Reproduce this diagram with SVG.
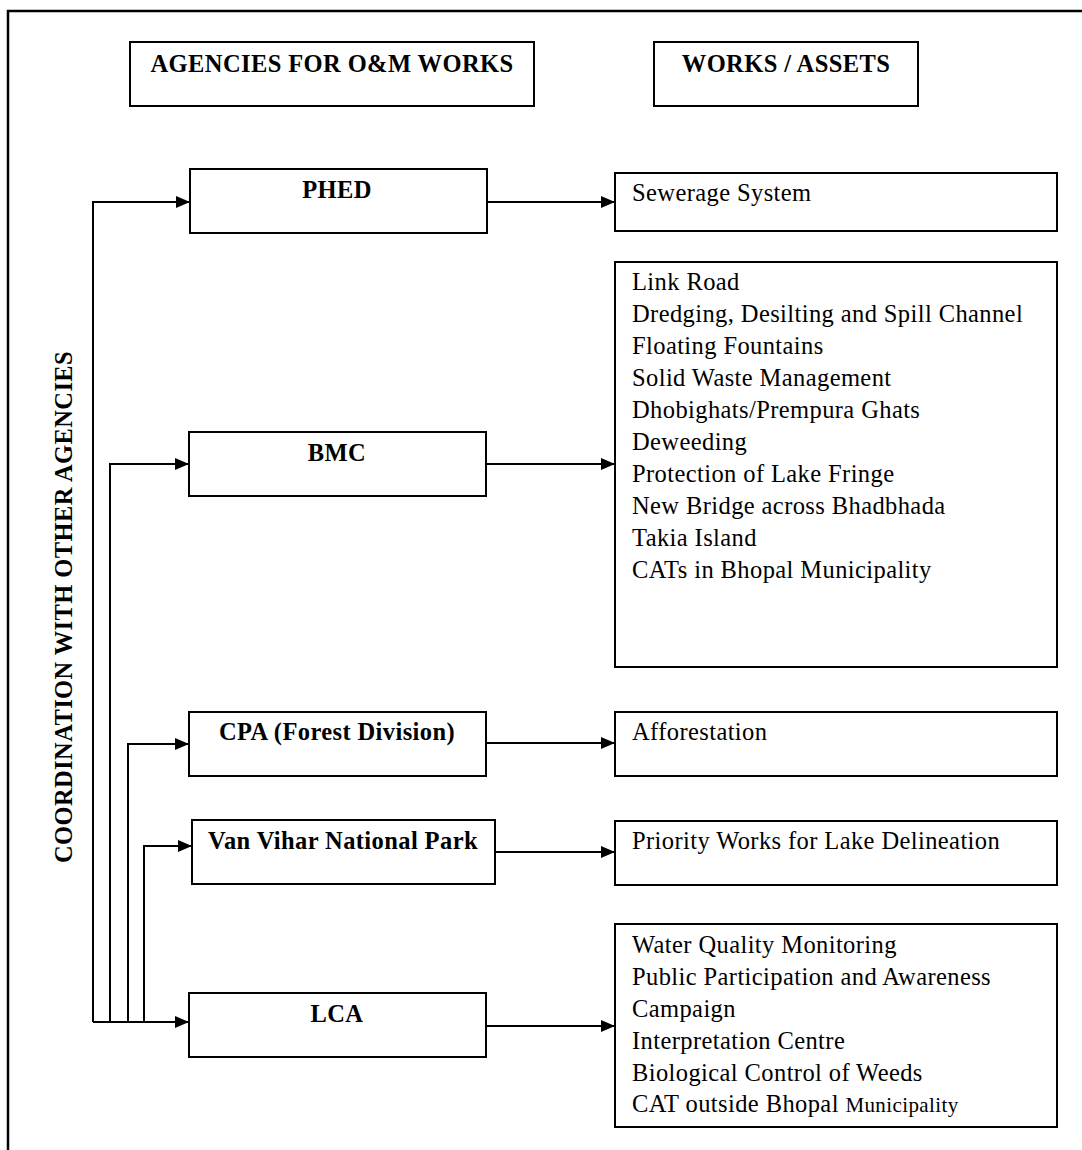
<svg xmlns="http://www.w3.org/2000/svg" width="1082" height="1150" viewBox="0 0 1082 1150">
<style>
.box{fill:#fff;stroke:#000;stroke-width:2}
.frame{fill:none;stroke:#000;stroke-width:2.5}
.b{font-family:"Liberation Serif","Times New Roman",serif;font-weight:bold;font-size:24.5px;letter-spacing:0.4px;fill:#000}
.t{font-family:"Liberation Serif","Times New Roman",serif;font-size:24.5px;letter-spacing:0.4px;fill:#000}
.small{font-size:21px}
.c{text-anchor:middle}
.ln{fill:none;stroke:#000;stroke-width:2}
</style>
<defs>
<marker id="ah" viewBox="0 0 14 12" refX="14" refY="6" markerWidth="14" markerHeight="12" markerUnits="userSpaceOnUse" orient="auto">
<path d="M0,0 L14,6 L0,12 Z" fill="#000"/>
</marker>
</defs>
<rect width="1082" height="1150" fill="#fff"/>
<path class="frame" d="M8,1150 V11 H1082"/>

<g id="hdr-agencies"><rect class="box" x="130" y="42" width="404" height="64"/><text class="b c" x="332" y="72">AGENCIES FOR O&amp;M WORKS</text></g>
<g id="hdr-works"><rect class="box" x="654" y="42" width="264" height="64"/><text class="b c" x="786" y="72">WORKS / ASSETS</text></g>

<g id="coord"><text class="b c" transform="translate(72,607) rotate(-90)">COORDINATION WITH OTHER AGENCIES</text></g>

<g id="phed"><rect class="box" x="190" y="169" width="297" height="64"/><text class="b c" x="337" y="198">PHED</text></g>
<g id="sewerage"><rect class="box" x="615" y="173" width="442" height="58"/><text class="t" x="632" y="201">Sewerage System</text></g>

<g id="bmc"><rect class="box" x="189" y="432" width="297" height="64"/><text class="b c" x="337" y="461">BMC</text></g>
<g id="bmc-works"><rect class="box" x="615" y="262" width="442" height="405"/>
<text class="t" x="632" y="290">Link Road</text>
<text class="t" x="632" y="322">Dredging, Desilting and Spill Channel</text>
<text class="t" x="632" y="354">Floating Fountains</text>
<text class="t" x="632" y="386">Solid Waste Management</text>
<text class="t" x="632" y="418">Dhobighats/Prempura Ghats</text>
<text class="t" x="632" y="450">Deweeding</text>
<text class="t" x="632" y="482">Protection of Lake Fringe</text>
<text class="t" x="632" y="514">New Bridge across Bhadbhada</text>
<text class="t" x="632" y="546">Takia Island</text>
<text class="t" x="632" y="578">CATs in Bhopal Municipality</text>
</g>

<g id="cpa"><rect class="box" x="189" y="712" width="297" height="64"/><text class="b c" x="337" y="740">CPA (Forest Division)</text></g>
<g id="afforestation"><rect class="box" x="615" y="712" width="442" height="64"/><text class="t" x="632" y="740">Afforestation</text></g>

<g id="vanvihar"><rect class="box" x="192" y="820" width="303" height="64"/><text class="b c" x="343" y="849">Van Vihar National Park</text></g>
<g id="priority"><rect class="box" x="615" y="821" width="442" height="64"/><text class="t" x="632" y="849">Priority Works for Lake Delineation</text></g>

<g id="lca"><rect class="box" x="189" y="993" width="297" height="64"/><text class="b c" x="337" y="1022">LCA</text></g>
<g id="lca-works"><rect class="box" x="615" y="924" width="442" height="203"/>
<text class="t" x="632" y="953">Water Quality Monitoring</text>
<text class="t" x="632" y="985">Public Participation and Awareness</text>
<text class="t" x="632" y="1017">Campaign</text>
<text class="t" x="632" y="1049">Interpretation Centre</text>
<text class="t" x="632" y="1081">Biological Control of Weeds</text>
<text class="t" x="632" y="1112">CAT outside Bhopal <tspan class="small">Municipality</tspan></text>
</g>

<g id="connectors">
<path class="ln" d="M93,1022 V202 H190" marker-end="url(#ah)"/>
<path class="ln" d="M110,1022 V464 H189" marker-end="url(#ah)"/>
<path class="ln" d="M128,1022 V744 H189" marker-end="url(#ah)"/>
<path class="ln" d="M144,1022 V846 H192" marker-end="url(#ah)"/>
<path class="ln" d="M93,1022 H189" marker-end="url(#ah)"/>
<path class="ln" d="M487,202 H615" marker-end="url(#ah)"/>
<path class="ln" d="M486,464 H615" marker-end="url(#ah)"/>
<path class="ln" d="M486,743 H615" marker-end="url(#ah)"/>
<path class="ln" d="M495,852 H615" marker-end="url(#ah)"/>
<path class="ln" d="M486,1026 H615" marker-end="url(#ah)"/>
</g>
</svg>
